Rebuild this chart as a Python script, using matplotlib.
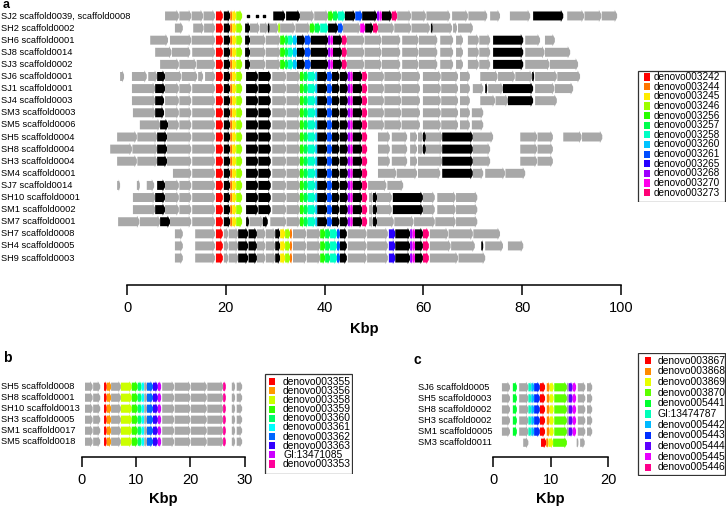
import matplotlib
matplotlib.use("Agg")
import matplotlib.pyplot as plt
from matplotlib.patches import Polygon, Rectangle
from matplotlib.transforms import blended_transform_factory

W, H = 727, 509
plt.rcParams['font.family'] = ['Liberation Sans', 'DejaVu Sans']

GRAY = "#A8A8A8"

# ---- panel a: gene segments per scaffold (start kbp, end kbp, key) ----
# key: 'g' = gray (other gene), 'k' = black, int = index into legend
a_labels = ["SJ2 scaffold0039, scaffold0008", "SH2 scaffold0002", "SH6 scaffold0001",
            "SJ8 scaffold0014", "SJ3 scaffold0002", "SJ6 scaffold0001", "SJ1 scaffold0001",
            "SJ4 scaffold0003", "SM3 scaffold0003", "SM5 scaffold0006", "SH5 scaffold0004",
            "SH8 scaffold0004", "SH3 scaffold0004", "SM4 scaffold0001", "SJ7 scaffold0014",
            "SH10 scaffold0001", "SM1 scaffold0002", "SM7 scaffold0001", "SH7 scaffold0008",
            "SH4 scaffold0005", "SH9 scaffold0003"]
a_legend = ["denovo003242", "denovo003244", "denovo003245", "denovo003246", "denovo003256",
            "denovo003257", "denovo003258", "denovo003260", "denovo003261", "denovo003265",
            "denovo003268", "denovo003270", "denovo003273"]
a_colours = ["#FF0000", "#FF7600", "#FFEC00", "#9DFF00", "#27FF00", "#00FF4E", "#00FFC4",
             "#00C4FF", "#004EFF", "#2700FF", "#9D00FF", "#FF00EC", "#FF0076"]

core = [(18.0, 19.4, 0), (19.6, 20.9, 'k'), (20.9, 21.3, 1), (21.3, 22.1, 2), (22.1, 23.3, 3)]

rowA_mid = [(23.9, 24.9, 'k'), (24.9, 28.0, 'g'), (28.1, 31.0, 'g'), (31.0, 32.0, 4), (32.0, 32.6, 5),
            (32.6, 33.6, 6), (33.6, 34.4, 7), (34.4, 36.0, 'k'), (36.0, 37.2, 8), (37.2, 40.7, 'k'),
            (40.7, 41.2, 10), (41.2, 41.7, 11), (41.7, 43.5, 'k'), (43.5, 44.5, 12), (44.5, 48.0, 'g'),
            (48.1, 51.5, 'g'), (51.6, 55.3, 'g'), (55.7, 59.0, 'g'), (59.1, 62.8, 'g'), (63.4, 66.0, 'g'),
            (66.6, 68.0, 'g'), (69.0, 71.2, 'g'), (71.3, 73.5, 'g'), (74.1, 80.2, 'k')]

rowB_mid = [(24.1, 26.5, 'k'), (26.6, 29.1, 'k'), (29.4, 32.2, 'g'), (32.3, 35.0, 'g'), (35.0, 35.8, 4),
            (35.8, 36.6, 5), (36.6, 38.1, 6), (38.1, 38.5, 7), (38.5, 40.5, 'k'), (40.5, 41.5, 8),
            (41.5, 43.0, 'k'), (43.1, 44.7, 'k'), (44.7, 45.2, 10), (45.2, 45.7, 11), (45.7, 47.6, 'k'),
            (47.6, 48.6, 12)]
rowB_tail = [(48.8, 52.0, 'g'), (52.1, 55.5, 'g'), (55.6, 59.3, 'g'), (59.9, 63.5, 'g'),
             (63.6, 67.0, 'g'), (67.4, 69.4, 'g')]
rowB_left = [(7.7, 10.5, 'g'), (10.6, 13.0, 'g'), (13.2, 17.8, 'g')]

rowC = [(18.0, 19.4, 0), (19.6, 20.5, 'g'), (20.6, 22.5, 'g'), (22.5, 24.5, 'k'), (24.6, 26.3, 'k'),
        (26.3, 28.0, 'g'), (28.1, 30.0, 'g'), (30.0, 31.0, 'k'), (31.0, 32.0, 2), (32.0, 33.0, 3),
        (33.0, 33.4, 1), (33.6, 36.3, 'g'), (36.4, 39.1, 'g'), (39.1, 40.1, 4), (40.1, 41.1, 5),
        (41.1, 42.5, 6), (42.5, 43.1, 8), (43.1, 44.5, 'k'), (44.7, 48.5, 'g'), (48.6, 52.8, 'g'),
        (53.0, 54.3, 9), (54.3, 57.3, 'k'), (57.3, 57.8, 10), (57.8, 58.3, 11), (58.3, 59.9, 'k'),
        (59.9, 61.1, 12)]
rowC_left = [(9.7, 11.3, 'g'), (13.8, 17.8, 'g')]

a_rows = [
    # SJ2
    [(7.7, 10.5, 'g'), (10.6, 13.0, 'g'), (13.1, 15.4, 'g'), (15.5, 17.8, 'g')] + core +
    [(29.6, 32.0, 'k'), (32.2, 35.0, 'k'), (35.0, 37.8, 'g'), (37.9, 40.7, 'g'), (40.7, 41.7, 4),
     (41.7, 42.7, 5), (42.7, 44.1, 6), (44.1, 46.2, 'k'), (46.2, 47.6, 8), (47.6, 50.6, 'k'),
     (50.6, 51.1, 10), (51.1, 51.6, 11), (51.6, 53.6, 'k'), (53.6, 54.7, 12), (54.7, 57.5, 'g'),
     (57.6, 60.5, 'g'), (60.6, 65.4, 'g'), (65.8, 69.0, 'g'), (69.1, 72.9, 'g'), (73.5, 75.5, 'g'),
     (77.5, 81.6, 'g'), (82.2, 88.3, 'k'), (89.1, 92.5, 'g'), (92.6, 96.0, 'g'), (96.1, 99.2, 'g')],
    # SH2
    [(9.7, 11.3, 'g'), (13.4, 15.5, 'g'), (15.6, 17.8, 'g')] + core +
    [(23.9, 24.9, 'k'), (24.9, 26.8, 'g'), (26.9, 28.5, 'g'), (28.5, 28.9, 'k'), (28.9, 30.6, 'g'),
     (30.6, 31.0, 3), (31.0, 34.0, 'g'), (34.1, 37.0, 'g'), (37.0, 38.0, 4), (38.0, 39.1, 5),
     (39.1, 40.7, 6), (40.7, 42.7, 'k'), (42.7, 43.7, 8), (43.7, 47.2, 'g'), (47.2, 48.2, 11),
     (48.2, 49.8, 'k'), (49.8, 50.8, 12), (50.8, 54.0, 'g'), (54.1, 57.5, 'g'), (57.6, 61.3, 'g'),
     (61.5, 61.9, 'k'), (61.9, 65.8, 'g'), (66.0, 66.8, 'g'), (67.0, 70.0, 'g')],
    # SH6
    [(4.7, 8.3, 'g'), (8.7, 13.0, 'g'), (13.1, 17.8, 'g')] + core + rowA_mid +
    [(80.6, 83.6, 'g'), (84.6, 86.6, 'g')],
    # SJ8
    [(5.7, 9.0, 'g'), (9.1, 12.8, 'g'), (13.2, 17.8, 'g')] + core + rowA_mid +
    [(80.6, 84.5, 'g'), (84.6, 89.7, 'g')],
    # SJ3
    [(6.7, 10.5, 'g'), (10.6, 14.0, 'g'), (14.1, 17.8, 'g')] + core + rowA_mid +
    [(80.6, 85.5, 'g'), (85.6, 91.3, 'g')],
    # SJ6
    [(-1.4, -0.6, 'g'), (1.0, 4.0, 'g'), (4.3, 6.1, 'g'), (6.1, 7.7, 'k'), (7.7, 11.0, 'g'),
     (11.1, 14.2, 'g'), (14.4, 15.4, 'g'), (15.8, 17.8, 'g')] + core + rowB_mid + rowB_tail +
    [(71.5, 75.0, 'g'), (75.1, 78.5, 'g'), (78.6, 82.0, 'g'), (82.0, 82.4, 'k'), (82.6, 87.0, 'g'),
     (87.1, 91.7, 'g')],
    # SJ1
    [(1.0, 5.7, 'g'), (5.7, 7.7, 'k')] + rowB_left + core + rowB_mid + rowB_tail +
    [(70.0, 72.1, 'g'), (72.5, 72.9, 'k'), (73.1, 76.1, 'g'), (76.1, 82.2, 'k'), (82.6, 86.5, 'g'),
     (86.6, 90.3, 'g')],
    # SJ4
    [(1.0, 5.7, 'g'), (5.7, 7.5, 'k')] + rowB_left + core + rowB_mid + rowB_tail +
    [(71.5, 74.5, 'g'), (74.6, 77.1, 'g'), (77.1, 82.2, 'k'), (82.6, 87.0, 'g')],
    # SM3
    [(1.2, 5.7, 'g'), (5.7, 7.5, 'k')] + rowB_left + core + rowB_mid + rowB_tail +
    [(69.8, 72.1, 'g')],
    # SM5
    [(2.6, 6.7, 'g'), (6.7, 8.3, 'k'), (8.3, 10.5, 'g'), (10.6, 13.0, 'g'), (13.2, 17.8, 'g')] +
    core + rowB_mid + rowB_tail + [(69.8, 72.1, 'g')],
    # SH5
    [(-2.0, 2.0, 'g'), (2.1, 6.1, 'g'), (6.1, 8.1, 'k'), (8.1, 13.0, 'g'), (13.2, 17.8, 'g')] +
    core + rowB_mid +
    [(50.8, 53.2, 'g'), (53.6, 56.7, 'g'), (57.3, 58.7, 'g'), (58.9, 59.9, 'g'), (59.9, 60.5, 'k'),
     (60.5, 63.8, 'g'), (63.8, 70.0, 'k'), (70.0, 74.1, 'g'), (79.6, 83.0, 'g'), (83.1, 86.2, 'g'),
     (88.3, 92.0, 'g'), (92.1, 96.2, 'g')],
    # SH8
    [(-3.4, 1.0, 'g'), (1.1, 6.1, 'g'), (6.1, 8.1, 'k'), (8.1, 13.0, 'g'), (13.2, 17.8, 'g')] +
    core + rowB_mid +
    [(50.8, 53.2, 'g'), (53.6, 56.7, 'g'), (57.3, 58.7, 'g'), (58.9, 59.9, 'g'), (59.9, 60.5, 'k'),
     (60.5, 63.8, 'g'), (63.8, 70.0, 'k'), (70.0, 73.5, 'g'), (79.6, 83.0, 'g'), (83.1, 86.2, 'g')],
    # SH3
    [(-2.0, 2.0, 'g'), (2.1, 6.1, 'g'), (6.1, 8.1, 'k'), (8.1, 13.0, 'g'), (13.2, 17.8, 'g')] +
    core + rowB_mid +
    [(50.8, 53.2, 'g'), (53.6, 56.7, 'g'), (57.3, 58.7, 'g'), (58.9, 63.8, 'g'), (63.8, 70.0, 'k'),
     (70.0, 73.5, 'g'), (79.6, 83.0, 'g'), (83.1, 86.2, 'g')],
    # SM4
    [(9.3, 13.0, 'g'), (13.2, 17.8, 'g')] + core + rowB_mid +
    [(50.8, 54.5, 'g'), (54.6, 58.7, 'g'), (58.9, 63.4, 'g'), (63.8, 70.0, 'k'), (70.0, 72.1, 'g'),
     (72.5, 76.5, 'g'), (76.6, 80.6, 'g')],
    # SJ7
    [(-2.0, -1.4, 'g'), (2.0, 2.6, 'g'), (4.0, 5.5, 'g'), (6.1, 7.7, 'k')] + rowB_left + core +
    rowB_mid + [(48.8, 52.5, 'g'), (52.7, 55.9, 'g')],
    # SH10
    [(1.2, 5.7, 'g'), (5.7, 7.7, 'k')] + rowB_left + core + rowB_mid +
    [(49.0, 49.8, 'g'), (49.8, 50.6, 'k'), (50.6, 53.6, 'g'), (53.8, 59.9, 'k'), (59.9, 62.3, 'g'),
     (62.8, 66.5, 'g'), (66.6, 70.9, 'g')],
    # SM1
    [(1.2, 5.7, 'g'), (5.7, 7.7, 'k')] + rowB_left + core + rowB_mid +
    [(49.0, 49.8, 'g'), (49.8, 50.6, 'k'), (50.6, 53.6, 'g'), (53.8, 59.9, 'k'), (59.9, 62.3, 'g'),
     (62.8, 66.5, 'g'), (66.6, 70.9, 'g')],
    # SM7
    [(-1.8, 2.5, 'g'), (2.6, 6.7, 'g'), (6.7, 8.7, 'k'), (8.7, 13.0, 'g'), (13.2, 17.8, 'g')] + core +
    [(24.1, 24.7, 'k'), (24.8, 27.5, 'g'), (27.5, 28.5, 'k'), (29.0, 32.2, 'g'), (32.3, 35.0, 'g')] +
    rowB_mid[4:] +
    [(49.0, 49.8, 'g'), (49.8, 50.6, 'k'), (50.6, 54.0, 'g'), (54.1, 58.0, 'g'), (58.1, 62.3, 'g'),
     (62.4, 66.5, 'g'), (66.6, 70.9, 'g')],
    # SH7
    rowC_left + rowC + [(61.3, 65.0, 'g'), (65.1, 70.0, 'g'), (70.1, 75.5, 'g')],
    # SH4
    rowC_left + rowC + [(61.3, 65.5, 'g'), (65.6, 70.4, 'g'), (71.7, 72.1, 'k'), (72.5, 76.1, 'g'),
                        (77.1, 80.2, 'g')],
    # SH9
    rowC_left + rowC + [(61.3, 67.0, 'g'), (67.1, 72.5, 'g')],
]
sj2_gap_dots = [24.5, 26.3, 27.7]
a_ticks = [0, 20, 40, 60, 80, 100]

# ---- panel b ----
b_labels = ["SH5 scaffold0008", "SH8 scaffold0001", "SH10 scaffold0013", "SH3 scaffold0005",
            "SM1 scaffold0017", "SM5 scaffold0018"]
b_legend = ["denovo003355", "denovo003356", "denovo003358", "denovo003359", "denovo003360",
            "denovo003361", "denovo003362", "denovo003363", "GI:13471085", "denovo003353"]
b_colours = ["#FF0000", "#FF9900", "#CCFF00", "#33FF00", "#00FF66", "#00FFFF", "#0066FF",
             "#3300FF", "#CC00FF", "#FF0099"]
b_row = [(0.6, 2.0, 'g'), (2.1, 3.4, 'g'), (4.1, 4.6, 0), (4.6, 5.4, 1), (5.4, 7.2, 'g'),
         (7.2, 9.2, 2), (9.2, 10.3, 3), (10.3, 11.0, 4), (11.0, 11.5, 5), (11.5, 12.0, 'g'),
         (12.0, 13.1, 6), (13.1, 14.0, 7), (14.0, 14.6, 8), (14.8, 17.0, 'g'), (17.1, 20.0, 'g'),
         (20.1, 23.0, 'g'), (23.1, 26.0, 'g'), (26.0, 26.5, 9), (27.6, 28.2, 'g'), (28.5, 29.5, 'g')]
b_rows = [b_row] * 6
b_ticks = [0, 10, 20, 30]

# ---- panel c ----
c_labels = ["SJ6 scaffold0005", "SH5 scaffold0003", "SH8 scaffold0002", "SH3 scaffold0002",
            "SM1 scaffold0005", "SM3 scaffold0011"]
c_legend = ["denovo003867", "denovo003868", "denovo003869", "denovo003870", "denovo005441",
            "GI:13474787", "denovo005442", "denovo005443", "denovo005444", "denovo005445",
            "denovo005446"]
c_colours = ["#FF0000", "#FF8B00", "#E8FF00", "#5DFF00", "#00FF2E", "#00FFB9", "#00B9FF",
             "#002EFF", "#5D00FF", "#E800FF", "#FF008B"]
c_row = [(1.5, 2.9, 'g'), (3.4, 4.1, 4), (4.5, 6.1, 'g'), (6.1, 6.6, 5), (6.6, 7.1, 6),
         (7.1, 8.1, 7), (8.1, 9.0, 0), (9.3, 9.8, 1), (9.8, 10.5, 2), (10.6, 12.8, 3),
         (12.8, 13.1, 'g'), (13.1, 13.8, 8), (13.8, 14.4, 9), (14.7, 16.0, 'g'), (16.3, 17.2, 'g')]
c_last = [(5.2, 6.1, 'g'), (8.3, 9.2, 0), (9.2, 9.6, 1), (9.6, 10.4, 2), (10.4, 12.8, 3),
          (14.5, 14.8, 'g'), (15.1, 15.9, 'g')]
c_rows = [c_row] * 5 + [c_last]
c_ticks = [0, 10, 20]


def px_axes(fig, x0, y0, x1, y1):
    return fig.add_axes([x0 / W, 1 - y1 / H, (x1 - x0) / W, (y1 - y0) / H])


def draw_rows(ax, rows, colours, kbp_per_px):
    head = 2.4 * kbp_per_px
    for r, genes in enumerate(rows):
        for s, e, key in genes:
            if key == 'g':
                col = GRAY
            elif key == 'k':
                col = "black"
            else:
                col = colours[key]
            hl = min(head, (e - s) * 0.45)
            pts = [(s, r - 0.37), (e - hl, r - 0.37), (e - hl, r - 0.5), (e, r - 0.15),
                   (e, r + 0.15), (e - hl, r + 0.5), (e - hl, r + 0.37), (s, r + 0.37)]
            ax.add_patch(Polygon(pts, closed=True, facecolor=col, edgecolor="none"))


def style_axis(ax, ticks, outward_px):
    for side in ("top", "left", "right"):
        ax.spines[side].set_visible(False)
    ax.spines["bottom"].set_position(("outward", outward_px * 0.72))
    ax.spines["bottom"].set_bounds(ticks[0], ticks[-1])
    ax.spines["bottom"].set_linewidth(1.1)
    ax.set_xticks(ticks)
    ax.set_yticks([])
    ax.tick_params(axis="x", length=7, width=1.1, pad=4.5, labelsize=10.5)
    ax.set_xlabel("Kbp", fontsize=10.5, fontweight="bold", labelpad=4)
    ax.patch.set_visible(False)


def row_labels(fig, ax, labels, x_px, size):
    tr = blended_transform_factory(fig.transFigure, ax.transData)
    for r, lab in enumerate(labels):
        ax.text(x_px / W, r, lab, transform=tr, fontsize=size, ha="left", va="center")


def legend_box(fig, x0, y0, x1, y1, names, colours, first_y, step, mark_x, text_x, size):
    lax = px_axes(fig, x0, y0, x1, y1)
    lax.set_xlim(x0, x1)
    lax.set_ylim(y1, y0)
    lax.axis("off")
    lax.add_patch(Rectangle((x0 + 0.5, y0 + 0.5), x1 - x0 - 1.5, y1 - y0 - 1,
                            facecolor="white", edgecolor="#333333", linewidth=0.9))
    for i, (nm, col) in enumerate(zip(names, colours)):
        y = first_y + i * step
        lax.add_patch(Rectangle((mark_x - 2.8, y - 3.6), 5.6, 7.2, facecolor=col, edgecolor="none"))
        lax.text(text_x, y, nm, fontsize=size, ha="left", va="center")


fig = plt.figure(figsize=(W / 100, H / 100), dpi=100)

# panel a
ax_a = px_axes(fig, 102.3, 8.7, 626.0, 265.3)
ax_a.set_xlim(-5, 101)
ax_a.set_ylim(20.6, -0.6)
draw_rows(ax_a, a_rows, a_colours, 1 / 4.94)
ax_a.scatter(sj2_gap_dots, [0] * len(sj2_gap_dots), s=2.5, color="black", marker="s")
style_axis(ax_a, a_ticks, 19.7)
ax_a.xaxis.labelpad = 5
row_labels(fig, ax_a, a_labels, 1, 6.7)
legend_box(fig, 637, 70, 726, 202, a_legend, a_colours, 77, 9.64, 647, 654, 7.2)

# panel b
ax_b = px_axes(fig, 76.3, 380.1, 250.3, 448.3)
ax_b.set_xlim(-1, 31)
ax_b.set_ylim(5.6, -0.6)
draw_rows(ax_b, b_rows, b_colours, 1 / 5.44)
style_axis(ax_b, b_ticks, 8.4)
row_labels(fig, ax_b, b_labels, 1, 6.7)
legend_box(fig, 264, 373, 353, 474, b_legend, b_colours, 381.7, 9.14, 272, 283, 7.4)

# panel c
ax_c = px_axes(fig, 487.55, 380.65, 614.05, 449.35)
ax_c.set_xlim(-1, 21)
ax_c.set_ylim(5.6, -0.6)
draw_rows(ax_c, c_rows, c_colours, 1 / 5.75)
style_axis(ax_c, c_ticks, 7.35)
row_labels(fig, ax_c, c_labels, 418, 6.7)
legend_box(fig, 637, 353, 726, 476, c_legend, c_colours, 360.7, 10.66, 648, 658, 7.4)

# panel letters
fig.text(3 / W, 1 - 8.5 / H, "a", fontsize=9, fontweight="bold", ha="left", va="baseline")
fig.text(3 / W, 1 - 358 / H, "b", fontsize=10, fontweight="bold", ha="left", va="center")
fig.text(413 / W, 1 - 360 / H, "c", fontsize=10, fontweight="bold", ha="left", va="center")

fig.savefig("out.png", dpi=100)
